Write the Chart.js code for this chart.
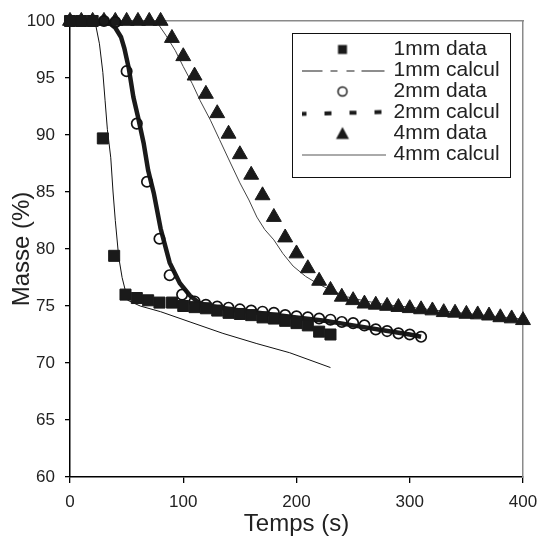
<!DOCTYPE html>
<html>
<head>
<meta charset="utf-8">
<title>Masse (%) en fonction du temps</title>
<script src="https://cdn.jsdelivr.net/npm/chart.js@4.4.1/dist/chart.umd.min.js"></script>
<style>
  html, body { margin: 0; padding: 0; background: #fff; }
  #wrap { width: 541px; height: 537px; }
</style>
</head>
<body>
<div id="wrap"><canvas id="chart" width="541" height="537"></canvas></div>
<script>
// values
const seriesLabels = ['1mm data', '1mm calcul', '2mm data', '2mm calcul', '4mm data', '4mm calcul'];
const xTicks = [0, 100, 200, 300, 400];
const yTicks = [60, 65, 70, 75, 80, 85, 90, 95, 100];

const time1mm = [0, 10, 20, 29, 39, 49, 59, 69, 79, 90, 100, 110, 120, 130, 140, 150, 160, 170, 180, 190, 200, 210, 220, 230];
const masse1mm = [100, 100, 100, 89.7, 79.4, 76.0, 75.7, 75.5, 75.3, 75.3, 75.0, 74.9, 74.8, 74.6, 74.4, 74.3, 74.2, 74.0, 73.9, 73.7, 73.5, 73.3, 72.75, 72.5];

const timeCalc1mm = [0, 22, 26, 29, 31, 33, 36, 38, 40, 43, 46, 49, 51, 62, 80, 106, 135, 165, 194, 230];
const masseCalc1mm = [100, 100, 98, 95.5, 93, 90.5, 88, 85, 82.5, 79.3, 77.5, 76.3, 75.5, 75.0, 74.5, 73.6, 72.6, 71.7, 70.9, 69.6];

const time2mm = [0, 10, 20, 30, 40, 50, 59, 68, 79, 88, 99, 110, 120, 130, 140, 150, 160, 170, 180, 190, 200, 210, 220, 230, 240, 250, 260, 270, 280, 290, 300, 310];
const masse2mm = [100, 100, 100, 100, 99.9, 95.6, 91.0, 85.9, 80.9, 77.7, 76.0, 75.4, 75.1, 74.95, 74.85, 74.7, 74.6, 74.5, 74.4, 74.2, 74.1, 74.0, 73.9, 73.8, 73.6, 73.5, 73.3, 72.95, 72.8, 72.6, 72.5, 72.3];

const timeCalc2mm = [0, 30, 35, 40, 45, 48, 52, 56, 60, 65, 69, 74, 80, 88, 97, 106, 115, 130, 150, 175, 200, 225, 250, 275, 300, 310];
const masseCalc2mm = [100, 100, 99.8, 99.4, 98.6, 97.6, 95.8, 93.3, 91.6, 89.3, 86.9, 84.9, 81.8, 78.8, 77.0, 75.9, 75.2, 74.9, 74.6, 74.3, 74.0, 73.7, 73.3, 72.9, 72.5, 72.3];

const time4mm = [0, 10, 20, 30, 40, 50, 60, 70, 80, 90, 100, 110, 120, 130, 140, 150, 160, 170, 180, 190, 200, 210, 220, 230, 240, 250, 260, 270, 280, 290, 300, 310, 320, 330, 340, 350, 360, 370, 380, 390, 400];
const masse4mm = [100, 100, 100, 100, 100, 100, 100, 100, 100, 98.5, 96.9, 95.2, 93.6, 91.9, 90.1, 88.3, 86.5, 84.7, 82.8, 81.0, 79.6, 78.3, 77.2, 76.4, 75.8, 75.5, 75.2, 75.1, 75.0, 74.9, 74.8, 74.7, 74.6, 74.45, 74.4, 74.3, 74.25, 74.15, 74.0, 73.9, 73.75];

const timeCalc4mm = [0, 76, 85, 93, 100, 108, 115, 124, 132, 140, 150, 158, 165, 172, 180, 188, 197, 208, 218, 230, 245, 260, 280, 300, 325, 350, 375, 400];
const masseCalc4mm = [100, 100, 98.7, 97.4, 96.0, 94.5, 93.0, 91.3, 89.6, 87.9, 85.8, 84.3, 82.8, 81.7, 80.8, 79.6, 78.5, 77.6, 77.0, 76.4, 75.8, 75.45, 75.1, 74.9, 74.6, 74.35, 74.1, 73.85];

const toPoints = (xs, ys) => xs.map((x, i) => ({ x: x, y: ys[i] }));

const ink = '#1a1a1a';
const textColor = '#222';
const fontFamily = "'Liberation Sans', Arial, Helvetica, sans-serif";

// small canvases used as legend symbols
function legendSymbol(draw) {
  const c = document.createElement('canvas');
  c.width = 86;
  c.height = 16;
  const g = c.getContext('2d');
  g.fillStyle = ink;
  g.strokeStyle = ink;
  draw(g);
  return c;
}
const legendSymbols = [
  legendSymbol(g => { g.fillRect(38.5, 3.5, 9, 9); }),
  legendSymbol(g => {
    g.lineWidth = 1;
    g.setLineDash([23, 8, 7, 9, 8, 7, 23]);
    g.beginPath(); g.moveTo(0, 8.5); g.lineTo(86, 8.5); g.stroke();
  }),
  legendSymbol(g => {
    g.lineWidth = 1.5;
    g.beginPath(); g.arc(43, 8, 4.5, 0, Math.PI * 2); g.stroke();
  }),
  legendSymbol(g => {
    g.lineWidth = 4;
    g.setLineDash([7, 18]);
    g.beginPath(); g.moveTo(0, 9.5); g.lineTo(86, 7.5); g.stroke();
  }),
  legendSymbol(g => {
    g.beginPath(); g.moveTo(43, 1.5); g.lineTo(49.5, 13.5); g.lineTo(36.5, 13.5); g.closePath(); g.fill();
  }),
  legendSymbol(g => {
    g.strokeStyle = '#555';
    g.lineWidth = 1.2;
    g.beginPath(); g.moveTo(0, 8.5); g.lineTo(86, 8.5); g.stroke();
  })
];

// legend box sits inside the plot, top right
const legendFrame = { fromRight: 231, fromTop: 12, width: 218, height: 144 };

const legendInPlot = {
  id: 'legendInPlot',
  beforeInit(chart) {
    const legend = chart.legend;
    const fit = legend.fit;
    legend.fit = function () {
      fit.call(this);
      this.width = 0; // take no room in the layout
    };
  },
  afterLayout(chart) {
    const legend = chart.legend;
    const area = chart.chartArea;
    const left = area.right - legendFrame.fromRight + 10;
    const top = area.top + legendFrame.fromTop + 6;
    legend.left = left;
    legend.top = top;
    legend.width = legendFrame.width - 12;
    legend.height = legendFrame.height - 8;
    legend.right = left + legend.width;
    legend.bottom = top + legend.height;
    legend.adjustHitBoxes();
  },
  afterDraw(chart) {
    const ctx = chart.ctx;
    const area = chart.chartArea;
    ctx.save();
    ctx.strokeStyle = '#111';
    ctx.lineWidth = 1;
    ctx.strokeRect(Math.round(area.right - legendFrame.fromRight) + 0.5,
      Math.round(area.top + legendFrame.fromTop) + 0.5, legendFrame.width, legendFrame.height);
    ctx.restore();
  }
};

Chart.defaults.font.family = fontFamily;
Chart.defaults.color = textColor;

const ctx = document.getElementById('chart').getContext('2d');
new Chart(ctx, {
  type: 'scatter',
  data: {
    datasets: [
      {
        label: seriesLabels[0],
        data: toPoints(time1mm, masse1mm),
        pointStyle: 'rect',
        pointRadius: 7.8,
        pointBorderWidth: 1,
        pointBackgroundColor: ink,
        pointBorderColor: ink,
        showLine: false,
        clip: false
      },
      {
        label: seriesLabels[1],
        data: toPoints(timeCalc1mm, masseCalc1mm),
        showLine: true,
        borderColor: '#111',
        borderWidth: 1,
        pointRadius: 0,
        clip: false
      },
      {
        label: seriesLabels[2],
        data: toPoints(time2mm, masse2mm),
        pointStyle: 'circle',
        pointRadius: 5.2,
        pointBorderWidth: 1.7,
        pointBackgroundColor: 'rgba(255,255,255,0)',
        pointBorderColor: '#111',
        showLine: false,
        clip: false
      },
      {
        label: seriesLabels[3],
        data: toPoints(timeCalc2mm, masseCalc2mm),
        showLine: true,
        borderColor: ink,
        borderWidth: 4.5,
        pointRadius: 0,
        clip: false
      },
      {
        label: seriesLabels[4],
        data: toPoints(time4mm, masse4mm),
        pointStyle: 'triangle',
        pointRadius: 8.6,
        pointBorderWidth: 1,
        pointBackgroundColor: ink,
        pointBorderColor: ink,
        showLine: false,
        clip: false
      },
      {
        label: seriesLabels[5],
        data: toPoints(timeCalc4mm, masseCalc4mm),
        showLine: true,
        borderColor: '#444',
        borderWidth: 1,
        pointRadius: 0,
        clip: false
      }
    ]
  },
  options: {
    responsive: false,
    animation: false,
    events: [],
    layout: { padding: { top: 21, right: 18, left: 0, bottom: 0 } },
    scales: {
      x: {
        type: 'linear',
        position: 'bottom',
        min: xTicks[0],
        max: xTicks[xTicks.length - 1],
        afterBuildTicks: axis => { axis.ticks = xTicks.map(v => ({ value: v })); },
        ticks: { font: { size: 17 }, color: textColor, padding: 9, maxRotation: 0 },
        grid: { display: true, drawOnChartArea: false, drawTicks: true, tickLength: 6, color: '#000', lineWidth: 1.3 },
        border: { display: true, color: '#000', width: 1.5 },
        title: { display: true, text: 'Temps (s)', font: { size: 24 }, color: textColor, padding: { top: 0, bottom: -2 } },
        afterFit: axis => {
          axis.height = 60;
          axis.paddingLeft = 0;
          axis.paddingRight = 0;
        }
      },
      y: {
        type: 'linear',
        position: 'left',
        min: yTicks[0],
        max: yTicks[yTicks.length - 1],
        afterBuildTicks: axis => { axis.ticks = yTicks.map(v => ({ value: v })); },
        ticks: { font: { size: 17 }, color: textColor, padding: 10 },
        grid: { display: true, drawOnChartArea: false, drawTicks: true, tickLength: 5, color: '#000', lineWidth: 1.3 },
        border: { display: true, color: '#000', width: 1.5 },
        title: { display: true, text: 'Masse (%)', font: { size: 24 }, color: textColor, padding: { top: 8, bottom: 0 } },
        afterFit: axis => {
          axis.width = 70;
          axis.paddingTop = 0;
          axis.paddingBottom = 0;
        }
      },
      xTop: {
        type: 'linear',
        position: 'top',
        min: xTicks[0],
        max: xTicks[xTicks.length - 1],
        ticks: { display: false },
        grid: { display: false, drawTicks: false },
        border: { display: true, color: '#8a8a8a', width: 1.5 },
        afterFit: axis => { axis.height = 0; }
      },
      yRight: {
        type: 'linear',
        position: 'right',
        min: yTicks[0],
        max: yTicks[yTicks.length - 1],
        ticks: { display: false },
        grid: { display: false, drawTicks: false },
        border: { display: true, color: '#8a8a8a', width: 1.5 },
        afterFit: axis => { axis.width = 0; }
      }
    },
    plugins: {
      tooltip: { enabled: false },
      legend: {
        display: true,
        position: 'right',
        align: 'start',
        labels: {
          usePointStyle: true,
          pointStyleWidth: 81,
          padding: 0,
          color: textColor,
          font: { size: 21 },
          generateLabels: chart => chart.data.datasets.map((ds, i) => ({
            text: ds.label,
            pointStyle: legendSymbols[i],
            datasetIndex: i,
            hidden: false,
            lineWidth: 0,
            fillStyle: 'rgba(0,0,0,0)',
            strokeStyle: 'rgba(0,0,0,0)',
            fontColor: textColor
          }))
        }
      }
    }
  },
  plugins: [legendInPlot]
});
</script>
</body>
</html>
